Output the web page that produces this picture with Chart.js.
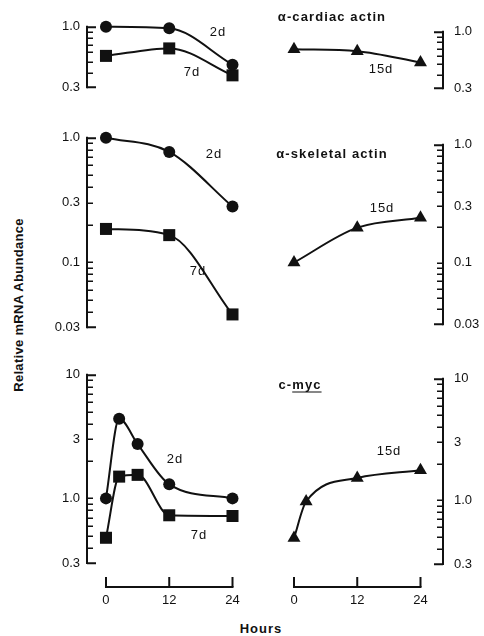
<!DOCTYPE html>
<html>
<head>
<meta charset="utf-8">
<script src="https://cdn.jsdelivr.net/npm/chart.js@4"></script>
<style>
  body { margin: 0; background: #fff; }
  #page { position: relative; width: 484px; height: 636px; overflow: hidden; font-family: "Liberation Sans", Arial, Helvetica, sans-serif; color: #111; }
  canvas { position: absolute; }
  .lbl { position: absolute; transform: translate(-50%, -50%); white-space: nowrap; font-size: 13px; letter-spacing: 1px; }
  .ttl { font-weight: bold; letter-spacing: 1.1px; }
  .ttl u { text-underline-offset: 3px; text-decoration-thickness: 1px; }
  #ylab { position: absolute; left: 18px; top: 305px; transform: translate(-50%, -50%) rotate(-90deg); font-weight: bold; font-size: 13px; letter-spacing: 0.3px; white-space: nowrap; }
  #xlab { position: absolute; left: 261px; top: 628px; transform: translate(-50%, -50%); font-weight: bold; font-size: 13px; letter-spacing: 1px; }
</style>
</head>
<body>
<div id="page">
  <canvas id="cardiacLeft" width="220" height="90" style="left:30px;top:12px"></canvas>
  <canvas id="cardiacRight" width="222" height="94" style="left:262px;top:13px"></canvas>
  <canvas id="skeletalLeft" width="220" height="219" style="left:30px;top:123px"></canvas>
  <canvas id="skeletalRight" width="222" height="217" style="left:262px;top:126px"></canvas>
  <canvas id="mycLeft" width="220" height="253" style="left:30px;top:360px"></canvas>
  <canvas id="mycRight" width="222" height="254" style="left:262px;top:360px"></canvas>

  <div class="lbl" style="left:218px;top:31px">2d</div>
  <div class="lbl" style="left:192px;top:71px">7d</div>
  <div class="lbl ttl" style="left:332px;top:16px">α-cardiac actin</div>
  <div class="lbl" style="left:381px;top:68px">15d</div>

  <div class="lbl" style="left:214px;top:153px">2d</div>
  <div class="lbl" style="left:198px;top:270px">7d</div>
  <div class="lbl ttl" style="left:332px;top:153px">α-skeletal actin</div>
  <div class="lbl" style="left:382px;top:207px">15d</div>

  <div class="lbl" style="left:175px;top:458px">2d</div>
  <div class="lbl" style="left:199px;top:534px">7d</div>
  <div class="lbl ttl" style="left:300px;top:384px">c-<u>myc</u></div>
  <div class="lbl" style="left:389px;top:450px">15d</div>

  <div id="ylab">Relative mRNA Abundance</div>
  <div id="xlab">Hours</div>
</div>
<script>
// hours on the x axis
const hourTicks = [0, 12, 24];

// alpha-cardiac actin
const cardiacHours = [0, 12, 24];
const cardiac2d = [1.0, 0.97, 0.47];
const cardiac7d = [0.56, 0.65, 0.38];
const cardiac15d = [0.69, 0.66, 0.52];
const cardiacTicks = [0.3, 1.0];

// alpha-skeletal actin
const skeletalHours = [0, 12, 24];
const skeletal2d = [1.0, 0.77, 0.28];
const skeletal7d = [0.185, 0.165, 0.038];
const skeletal15d = [0.1, 0.198, 0.24];
const skeletalTicks = [0.03, 0.1, 0.3, 1.0];

// c-myc
const mycHours = [0, 2.5, 6, 12, 24];
const myc2d = [1.0, 4.4, 2.75, 1.3, 1.0];
const myc7d = [0.48, 1.5, 1.55, 0.73, 0.72];
const myc15dHours = [0, 2.3, 12, 24];
const myc15d = [0.49, 0.98, 1.53, 1.77];
const mycTicks = [0.3, 1.0, 3, 10];

const INK = '#111';
const FONT = { family: '"Liberation Sans", Arial, Helvetica, sans-serif', size: 13 };

// axis drawn as a bracket with ticks pointing into the plot
const bracketAxes = {
  id: 'bracketAxes',
  afterDatasetsDraw(chart, args, opts) {
    const ctx = chart.ctx;
    const ys = chart.scales.y;
    const xs = chart.scales.x;
    const area = chart.chartArea;
    const left = opts.side === 'left';
    const ax = left ? area.left : area.right;
    const dir = left ? 1 : -1;
    ctx.save();
    ctx.strokeStyle = INK;
    ctx.lineWidth = 2;
    ctx.beginPath();
    ctx.moveTo(ax, ys.getPixelForValue(ys.max) - 1);
    ctx.lineTo(ax, ys.getPixelForValue(ys.min) + 1);
    ctx.stroke();

    const e0 = Math.floor(Math.log10(ys.min));
    const e1 = Math.ceil(Math.log10(ys.max));
    for (let e = e0; e <= e1; e++) {
      for (let m = 1; m < 10; m++) {
        const v = m * Math.pow(10, e);
        if (v < ys.min * 0.999 || v > ys.max * 1.001) continue;
        const p = Math.round(ys.getPixelForValue(v)) + 0.25;
        const end = Math.abs(v - ys.min) / v < 0.01 || Math.abs(v - ys.max) / v < 0.01;
        const len = end ? 9 : 6;
        ctx.lineWidth = end ? 2 : 1.5;
        ctx.beginPath();
        ctx.moveTo(ax, p);
        ctx.lineTo(ax + dir * len, p);
        ctx.stroke();
      }
    }

    if (opts.hourY) {
      const x0 = xs.getPixelForValue(hourTicks[0]);
      const x1 = xs.getPixelForValue(hourTicks[hourTicks.length - 1]);
      ctx.lineWidth = 2;
      ctx.beginPath();
      ctx.moveTo(x0 - 1, opts.hourY);
      ctx.lineTo(x1 + 1, opts.hourY);
      ctx.stroke();
      hourTicks.forEach((h) => {
        const x = xs.getPixelForValue(h);
        ctx.beginPath();
        ctx.moveTo(x, opts.hourY);
        ctx.lineTo(x, opts.hourY - 10);
        ctx.stroke();
      });
    }
    ctx.restore();
  }
};

const pairs = (hours, vals) => hours.map((h, i) => ({ x: h, y: vals[i] }));

const series = (hours, vals, style, radius) => ({
  data: pairs(hours, vals),
  borderColor: INK,
  borderWidth: 2,
  backgroundColor: INK,
  pointStyle: style,
  pointRadius: radius,
  pointBackgroundColor: INK,
  pointBorderColor: INK,
  pointBorderWidth: 0,
  cubicInterpolationMode: 'monotone',
  clip: false,
});

const fmt = (v) => (v === 1 ? '1.0' : String(v));

const makePanel = (id, cfg) => {
  const left = cfg.side === 'left';
  const showHours = !!cfg.hourY;
  return new Chart(document.getElementById(id), {
    type: 'line',
    data: { datasets: cfg.datasets },
    options: {
      responsive: false,
      animation: false,
      events: [],
      layout: { autoPadding: false, padding: { top: 12, bottom: showHours ? 0 : 12, left: 0, right: 0 } },
      plugins: { legend: { display: false }, tooltip: { enabled: false }, bracketAxes: { side: cfg.side, hourY: cfg.hourY } },
      scales: {
        x: {
          type: 'linear',
          min: cfg.xMin,
          max: cfg.xMax,
          display: showHours,
          grid: { display: false, drawTicks: false },
          border: { display: false },
          afterFit: (s) => {
            if (showHours) s.height = 50;
            s.paddingLeft = 0;
            s.paddingRight = 0;
          },
          afterBuildTicks: (s) => { s.ticks = hourTicks.map((v) => ({ value: v })); },
          ticks: { color: INK, font: FONT, padding: cfg.xPad || 29, maxRotation: 0 },
        },
        y: {
          type: 'logarithmic',
          position: cfg.side,
          min: cfg.yTicks[0],
          max: cfg.yTicks[cfg.yTicks.length - 1],
          grid: { display: false, drawTicks: false },
          border: { display: false },
          afterFit: (s) => { s.width = left ? 57 : 41; },
          afterBuildTicks: (s) => { s.ticks = cfg.yTicks.map((v) => ({ value: v })); },
          ticks: { color: INK, font: FONT, padding: left ? 7 : 11, callback: fmt },
        },
      },
    },
    plugins: [bracketAxes],
  });
};

const L = { xMin: -3.6, xMax: 27.32, side: 'left' };
const R = { xMin: -6.07, xMax: 28.27, side: 'right' };

makePanel('cardiacLeft', { ...L, yTicks: cardiacTicks, datasets: [
  series(cardiacHours, cardiac2d, 'circle', 6),
  series(cardiacHours, cardiac7d, 'rect', 8.5),
] });
makePanel('cardiacRight', { ...R, yTicks: cardiacTicks, datasets: [
  series(cardiacHours, cardiac15d, 'triangle', 7.5),
] });
makePanel('skeletalLeft', { ...L, yTicks: skeletalTicks, datasets: [
  series(skeletalHours, skeletal2d, 'circle', 6),
  series(skeletalHours, skeletal7d, 'rect', 8.5),
] });
makePanel('skeletalRight', { ...R, yTicks: skeletalTicks, datasets: [
  series(skeletalHours, skeletal15d, 'triangle', 7.5),
] });
makePanel('mycLeft', { ...L, yTicks: mycTicks, hourY: 227, xPad: 30, datasets: [
  series(mycHours, myc2d, 'circle', 6),
  series(mycHours, myc7d, 'rect', 8.5),
] });
makePanel('mycRight', { ...R, yTicks: mycTicks, hourY: 227, xPad: 29, datasets: [
  series(myc15dHours, myc15d, 'triangle', 7.5),
] });
</script>
</body>
</html>
